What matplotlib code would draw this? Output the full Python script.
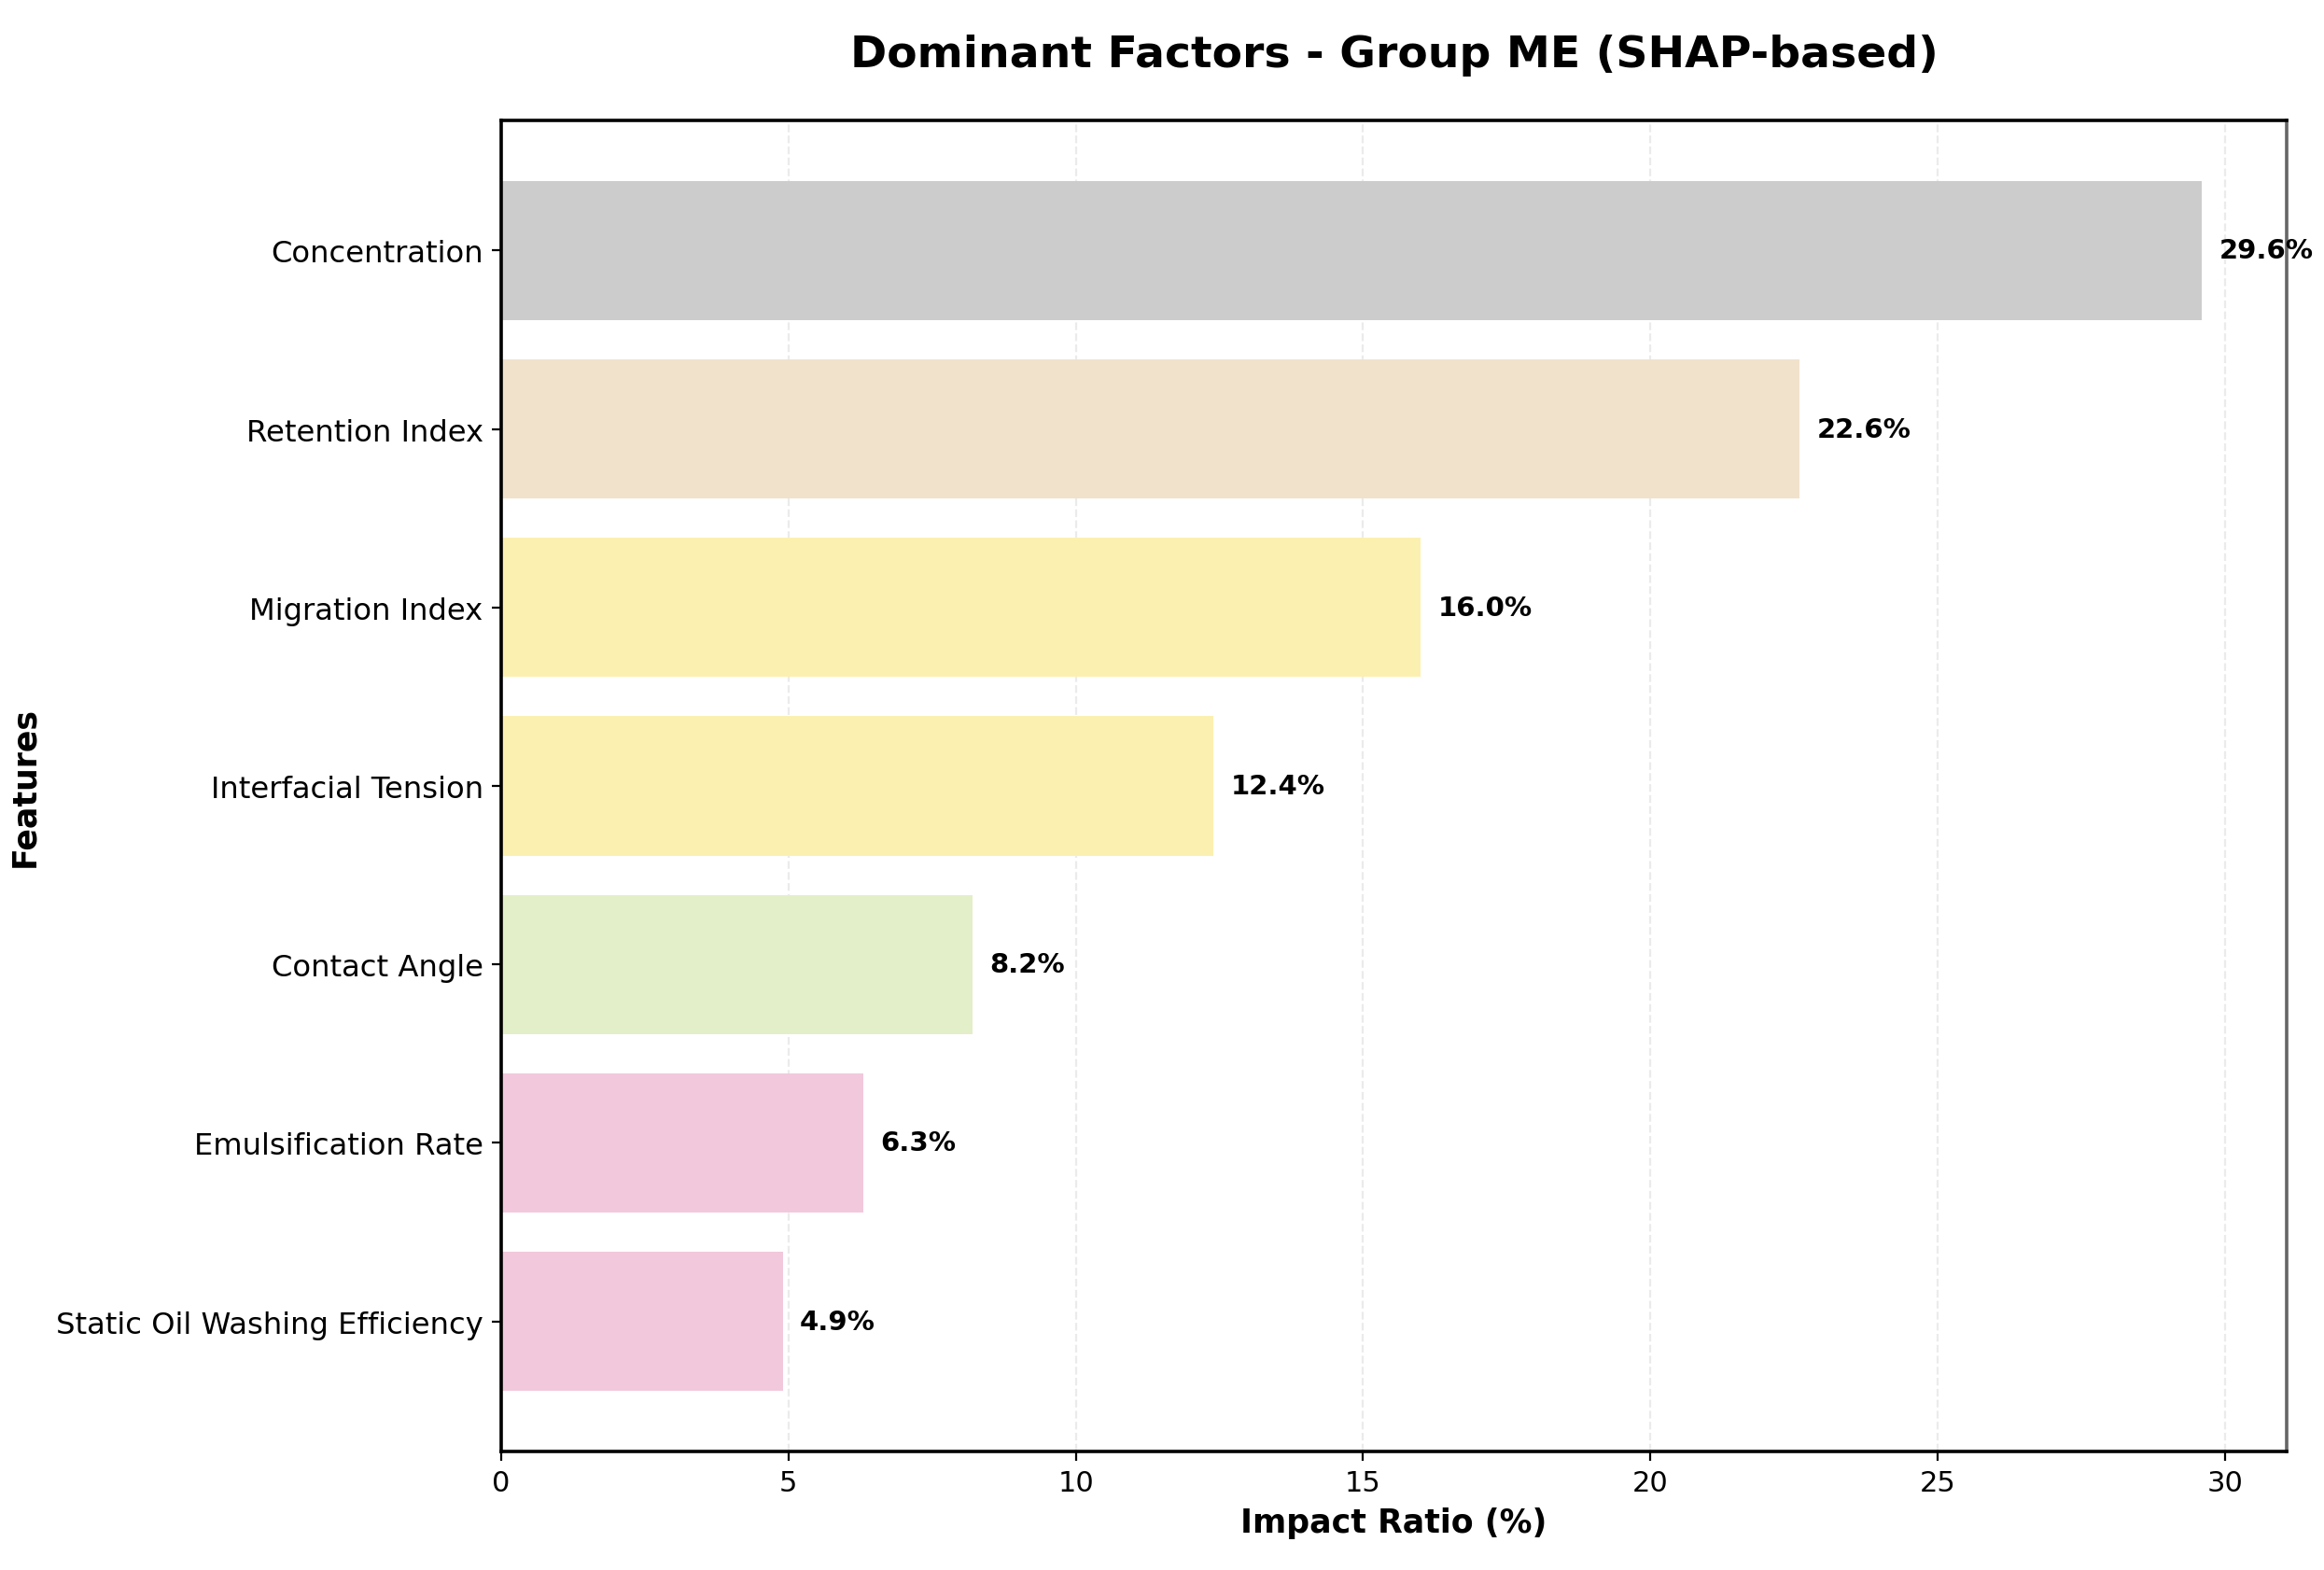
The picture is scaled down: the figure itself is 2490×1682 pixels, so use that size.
import matplotlib
matplotlib.use("Agg")
import matplotlib.pyplot as plt

features = ["Concentration", "Retention Index", "Migration Index", "Interfacial Tension",
            "Contact Angle", "Emulsification Rate", "Static Oil Washing Efficiency"]
impact = [29.6, 22.6, 16.0, 12.4, 8.2, 6.3, 4.9]
colours = ["#cccccc", "#f1e2cc", "#fbf0b0", "#fbf0b0", "#e3efc8", "#f2c8dc", "#f2c8dc"]

fig = plt.figure(figsize=(12.45, 8.415), dpi=200)
ax = fig.add_axes([0.2157, 0.0755, 0.7683, 0.8473])

ypos = list(range(len(features)))
bars = ax.barh(ypos, impact, height=0.78, color=colours)
ax.invert_yaxis()
ax.set_yticks(ypos)
ax.set_yticklabels(features, fontsize=11.6)
ax.set_xlim(0, max(impact) * 1.05)
ax.tick_params(axis='x', labelsize=11)

for b, v in zip(bars, impact):
    ax.text(v + 0.3, b.get_y() + b.get_height() / 2, f"{v:.1f}%",
            va='center', ha='left', fontsize=10.5, fontweight='bold')

ax.grid(axis='x', linestyle='--', alpha=0.25)
ax.set_axisbelow(True)
for s in ax.spines.values():
    s.set_linewidth(1.3)
ax.spines['right'].set_color('#666666')

ax.set_xlabel("Impact Ratio (%)", fontsize=12.5, fontweight='bold')
ax.set_ylabel("Features", fontsize=12.5, fontweight='bold', labelpad=6)
ax.set_title("Dominant Factors - Group ME (SHAP-based)", fontsize=17, fontweight='bold', pad=21)

fig.savefig("out.png", dpi=200)
